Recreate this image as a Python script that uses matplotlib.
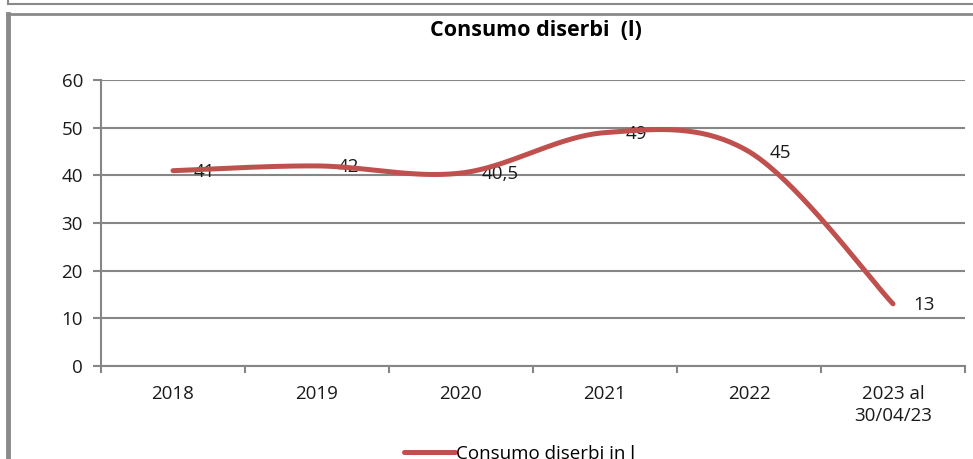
import numpy as np
import matplotlib
matplotlib.use("Agg")
import matplotlib.pyplot as plt
from matplotlib.lines import Line2D

# Dati
anni = ["2018", "2019", "2020", "2021", "2022", "2023 al\n30/04/23"]
consumo = [41, 42, 40.5, 49, 45, 13]
etichette = ["41", "42", "40,5", "49", "45", "13"]

plt.rcParams['font.family'] = ['Open Sans', 'DejaVu Sans']

ROSSO = "#C0504D"
GRIGIO = "#868686"


def curva_liscia(x, y, n=40):
    # linea smussata stile Excel (Bezier con punti di controllo a 1/6)
    x = np.asarray(x, float)
    y = np.asarray(y, float)
    px = np.concatenate([[x[0]], x, [x[-1]]])
    py = np.concatenate([[y[0]], y, [y[-1]]])
    t = np.linspace(0, 1, n)
    xs, ys = [], []
    for i in range(1, len(px) - 2):
        c1x = px[i] + (px[i + 1] - px[i - 1]) / 6
        c1y = py[i] + (py[i + 1] - py[i - 1]) / 6
        c2x = px[i + 1] - (px[i + 2] - px[i]) / 6
        c2y = py[i + 1] - (py[i + 2] - py[i]) / 6
        b0, b1, b2, b3 = (1 - t) ** 3, 3 * (1 - t) ** 2 * t, 3 * (1 - t) * t ** 2, t ** 3
        xs.append(b0 * px[i] + b1 * c1x + b2 * c2x + b3 * px[i + 1])
        ys.append(b0 * py[i] + b1 * c1y + b2 * c2y + b3 * py[i + 1])
    return np.concatenate(xs), np.concatenate(ys)


fig = plt.figure(figsize=(9.73, 4.59), dpi=100)
ax = fig.add_axes([101 / 973, 1 - 365.7 / 459, 864 / 973, 285.4 / 459])

xi = np.arange(len(anni))
sx, sy = curva_liscia(xi, consumo)
ax.plot(sx, sy, color=ROSSO, lw=3.6, solid_capstyle='round', zorder=5,
        label="Consumo diserbi in l")

for x, y, s in zip(xi, consumo, etichette):
    ax.annotate(s, (x, y), xytext=(14.5, -1), textcoords='offset points',
                ha='left', va='center', fontsize=13.5, color='#1a1a1a', zorder=4)

ax.set_xlim(-0.5, len(anni) - 0.5)
ax.set_ylim(0, 60)
ax.set_yticks(range(0, 61, 10))
ax.set_xticks(np.arange(-0.5, len(anni), 1))
ax.set_xticklabels([])
ax.set_xticks(xi, minor=True)
ax.set_xticklabels(anni, minor=True, fontsize=13.5, linespacing=1.25, color='#1a1a1a')
ax.tick_params(axis='x', which='major', length=5, width=1.5, color=GRIGIO, direction='out')
ax.tick_params(axis='x', which='minor', length=0, pad=14)
ax.tick_params(axis='y', length=6, width=1.5, color=GRIGIO, labelsize=13.5, pad=7,
               labelcolor='#1a1a1a')
ax.grid(axis='y', color=GRIGIO, lw=1.5)
ax.set_axisbelow(True)
for lato in ['top', 'right']:
    ax.spines[lato].set_visible(False)
for lato in ['left', 'bottom']:
    ax.spines[lato].set_color(GRIGIO)
    ax.spines[lato].set_linewidth(1.5)

fig.text(536 / 973, 1 - 30 / 459, "Consumo diserbi  (l)", ha='center', va='center',
         fontsize=15.5, fontweight='bold')

fig.legend(loc='center left', bbox_to_anchor=(404 / 973, 1 - 454 / 459), frameon=False,
           fontsize=13.5, handlelength=2.7, handletextpad=0.1, borderpad=0, borderaxespad=0)

# cornici
fig.add_artist(Line2D([8 / 973, 1], [1 - 4 / 459] * 2, transform=fig.transFigure, color='#8a8a8a', lw=1.5))
fig.add_artist(Line2D([8 / 973] * 2, [1, 1 - 4 / 459], transform=fig.transFigure, color='#8a8a8a', lw=1.5))
fig.add_artist(Line2D([7 / 973, 1], [1 - 14 / 459] * 2, transform=fig.transFigure, color='#8a8a8a', lw=2))
fig.add_artist(Line2D([7.5 / 973] * 2, [1 - 14 / 459, 0], transform=fig.transFigure, color='#8a8a8a', lw=3.5))

fig.savefig("out.png", dpi=100)
